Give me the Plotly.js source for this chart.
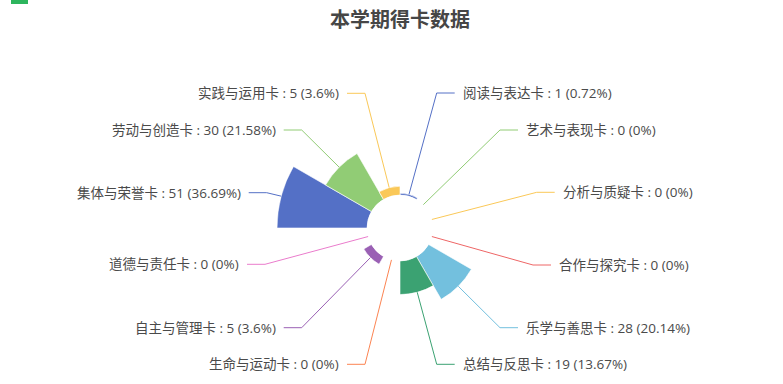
<!DOCTYPE html>
<html>
<head>
<meta charset="utf-8">
<script src="https://cdn.plot.ly/plotly-3.0.1.min.js"></script>
<style>html,body{margin:0;padding:0;background:#fff;}#chart{width:783px;height:384px;}</style>
</head>
<body>
<div id="chart"></div>
<script>
// ---- data ----
const categories = ['阅读与表达卡','艺术与表现卡','分析与质疑卡','合作与探究卡','乐学与善思卡','总结与反思卡','生命与运动卡','自主与管理卡','道德与责任卡','集体与荣誉卡','劳动与创造卡','实践与运用卡'];
const values = [1, 0, 0, 0, 28, 19, 0, 5, 0, 51, 30, 5];
const colors = ['#5470c6','#91cc75','#fac858','#ee6666','#73c0de','#3ba272','#fc8452','#9a60b4','#ea7ccc','#5470c6','#91cc75','#fac858'];
const titleText = '本学期得卡数据';

// ---- layout constants (pixels) ----
const W = 783, H = 384;
const cx = 400, cy = 228, R = 123, r0 = 33;
// label layout: elbow point of leader line and row of label
const elbowX = [436.7, 500, 536.7, 533, 500, 436.7, 365, 301.7, 265, 266.7, 301.7, 365];
const rowY   = [93, 130, 192.3, 265, 327.7, 364.3, 364.3, 327.7, 264.3, 192.7, 130, 93.3];
const seg2 = 18, gap = 6;

const total = values.reduce((a,b)=>a+b,0);
const vmax = Math.max(...values);
const n = categories.length;
const px = x => x / W;
const py = y => 1 - y / H;

const trace = {
  type: 'barpolar',
  theta: categories,
  r: values,
  marker: {color: colors, line: {color: '#ffffff', width: 0.6}},
  hoverinfo: 'skip',
  showlegend: false
};

const shapes = [];
const annotations = [];
categories.forEach((c, i) => {
  const ang = (i + 0.5) * 360 / n * Math.PI / 180; // clockwise from top
  const rr = r0 + values[i] / vmax * (R - r0);
  const sx = cx + rr * Math.sin(ang), sy = cy - rr * Math.cos(ang);
  const right = Math.sin(ang) > 0;
  const ex = elbowX[i], ey = rowY[i];
  const hx = right ? ex + seg2 : ex - seg2;
  shapes.push({
    type: 'path', xref: 'paper', yref: 'paper',
    path: `M ${px(sx)} ${py(sy)} L ${px(ex)} ${py(ey)} L ${px(hx)} ${py(ey)}`,
    line: {color: colors[i], width: 1}
  });
  const pct = parseFloat((values[i] / total * 100).toFixed(2));
  annotations.push({
    xref: 'paper', yref: 'paper',
    x: px(right ? hx + gap : hx - gap), y: py(ey),
    xanchor: right ? 'left' : 'right', yanchor: 'middle',
    text: `${c} : ${values[i]} (${pct}%)`,
    showarrow: false,
    font: {family: '"Microsoft YaHei", "Open Sans", "Noto Sans CJK SC", sans-serif', size: 13.5, color: '#4a4a4a'}
  });
});

// small green marker at top-left of the page
shapes.push({type: 'rect', xref: 'paper', yref: 'paper', x0: px(11), x1: px(28), y0: py(4), y1: py(0), fillcolor: '#2db55d', line: {width: 0}});

const layout = {
  width: W, height: H,
  margin: {l: 0, r: 0, t: 0, b: 0},
  paper_bgcolor: '#ffffff',
  title: {
    text: titleText, x: px(cx), y: py(20), xanchor: 'center', yanchor: 'middle', xref: 'paper', yref: 'paper',
    font: {family: '"Microsoft YaHei", "Noto Sans CJK SC", sans-serif', size: 20, color: '#464646', weight: 'bold'}
  },
  polar: {
    domain: {x: [px(cx - R), px(cx + R)], y: [py(cy + R), py(cy - R)]},
    hole: r0 / R,
    bargap: 0,
    bgcolor: 'rgba(0,0,0,0)',
    radialaxis: {range: [0, vmax], visible: false, showgrid: false},
    angularaxis: {type: 'category', rotation: 90 - 180 / n, direction: 'clockwise', visible: false, showgrid: false, showline: false, showticklabels: false, ticks: ''}
  },
  shapes: shapes,
  annotations: annotations
};

Plotly.newPlot('chart', [trace], layout, {displayModeBar: false, staticPlot: true});
</script>
</body>
</html>
